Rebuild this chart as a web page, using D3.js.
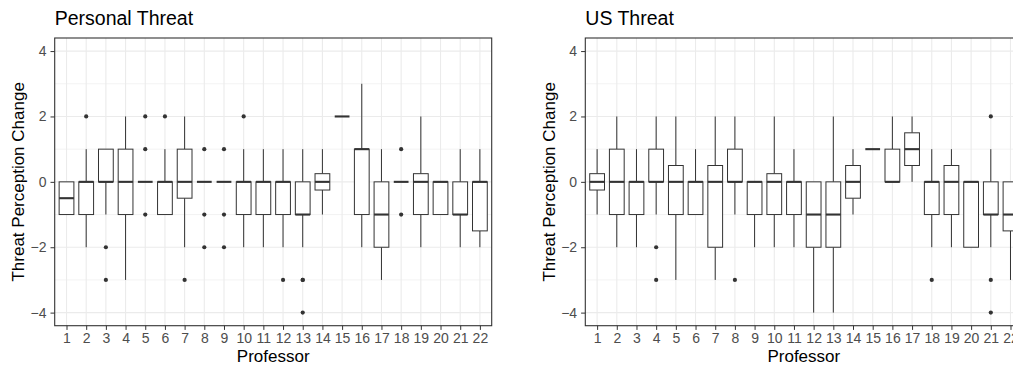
<!DOCTYPE html>
<html>
<head>
<meta charset="utf-8">
<script src="https://cdn.jsdelivr.net/npm/d3@7"></script>
<style>
  html, body { margin: 0; padding: 0; background: #fff; }
  svg { display: block; font-family: "Liberation Sans", Arial, sans-serif; }
</style>
</head>
<body>
<div id="chart"></div>
<script>
// categories (professor ids)
const professors = d3.range(1, 23).map(String);

// Personal Threat: box stats per professor
const personalLow  = [-1, -2, -1, -3, 0, -1, -2, 0, 0, -2, -2, -2, -2, -1, 2, -2, -3, 0, -2, -1, -2, -2];
const personalQ1   = [-1, -1, 0, -1, 0, -1, -0.5, 0, 0, -1, -1, -1, -1, -0.25, 2, -1, -2, 0, -1, -1, -1, -1.5];
const personalMed  = [-0.5, 0, 0, 0, 0, 0, 0, 0, 0, 0, 0, 0, -1, 0, 2, 1, -1, 0, 0, 0, -1, 0];
const personalQ3   = [0, 0, 1, 1, 0, 0, 1, 0, 0, 0, 0, 0, 0, 0.25, 2, 1, 0, 0, 0.25, 0, 0, 0];
const personalHigh = [0, 1, 1, 2, 0, 1, 2, 0, 0, 1, 1, 1, 1, 1, 2, 3, 1, 0, 2, 0, 1, 1];
const personalOut  = [[], [2], [-2, -3], [], [2, 1, -1], [2], [-3], [1, -1, -2], [1, -1, -2], [2], [], [-3],
                      [-3, -3, -4], [], [], [], [], [1, -1], [], [], [], []];

// US Threat: box stats per professor
const usLow  = [-1, -2, -2, -1, -3, -1, -3, -1, -2, -2, -2, -4, -4, -1, 1, 0, 0, -2, -2, -2, -2, -3];
const usQ1   = [-0.25, -1, -1, 0, -1, -1, -2, 0, -1, -1, -1, -2, -2, -0.5, 1, 0, 0.5, -1, -1, -2, -1, -1.5];
const usMed  = [0, 0, 0, 0, 0, 0, 0, 0, 0, 0, 0, -1, -1, 0, 1, 0, 1, 0, 0, 0, -1, -1];
const usQ3   = [0.25, 1, 0, 1, 0.5, 0, 0.5, 1, 0, 0.25, 0, 0, 0, 0.5, 1, 1, 1.5, 0, 0.5, 0, 0, 0];
const usHigh = [1, 2, 1, 2, 2, 1, 2, 2, 0, 2, 1, 0, 2, 1, 1, 2, 2, 1, 1, 0, 1, 0];
const usOut  = [[], [], [], [-2, -3], [], [], [], [-3], [], [], [], [], [], [], [], [], [], [-3], [], [],
                [2, -3, -4], []];

const yMajor = [-4, -2, 0, 2, 4];
const yMinor = [-3, -1, 1, 3];

const W = 1013, H = 366;
const ink = '#333333';
const gridCol = '#EBEBEB';
const tickText = '#4D4D4D';

const svg = d3.select('#chart').append('svg')
  .attr('width', W)
  .attr('height', H);

function boxRows(low, q1, med, q3, high, out) {
  return professors.map((p, i) => ({
    prof: p, low: low[i], q1: q1[i], med: med[i], q3: q3[i], high: high[i], out: out[i]
  }));
}

function drawPanel(left, title, rows) {
  const top = 38, bottom = 325.7, width = 437;
  const right = left + width;

  const x = d3.scalePoint()
    .domain(professors)
    .range([left, right])
    .padding(0.6);

  const y = d3.scaleLinear()
    .domain([-4.4, 4.4])
    .range([bottom, top]);

  const boxW = x.step() * 0.75;
  const g = svg.append('g');

  // grid
  g.selectAll('.minor').data(yMinor).enter().append('line')
    .attr('x1', left).attr('x2', right)
    .attr('y1', d => y(d)).attr('y2', d => y(d))
    .attr('stroke', gridCol).attr('stroke-width', 0.6);
  g.selectAll('.majorY').data(yMajor).enter().append('line')
    .attr('x1', left).attr('x2', right)
    .attr('y1', d => y(d)).attr('y2', d => y(d))
    .attr('stroke', gridCol).attr('stroke-width', 1.1);
  g.selectAll('.majorX').data(professors).enter().append('line')
    .attr('y1', top).attr('y2', bottom)
    .attr('x1', d => x(d)).attr('x2', d => x(d))
    .attr('stroke', gridCol).attr('stroke-width', 1.1);

  // boxes
  const box = g.selectAll('.box').data(rows).enter().append('g');

  box.append('line')
    .attr('x1', d => x(d.prof)).attr('x2', d => x(d.prof))
    .attr('y1', d => y(d.q3)).attr('y2', d => y(d.high))
    .attr('stroke', ink).attr('stroke-width', 1);
  box.append('line')
    .attr('x1', d => x(d.prof)).attr('x2', d => x(d.prof))
    .attr('y1', d => y(d.q1)).attr('y2', d => y(d.low))
    .attr('stroke', ink).attr('stroke-width', 1);
  box.append('rect')
    .attr('x', d => x(d.prof) - boxW / 2)
    .attr('width', boxW)
    .attr('y', d => y(d.q3))
    .attr('height', d => y(d.q1) - y(d.q3))
    .attr('fill', '#fff')
    .attr('stroke', ink).attr('stroke-width', 1);
  box.append('line')
    .attr('x1', d => x(d.prof) - boxW / 2).attr('x2', d => x(d.prof) + boxW / 2)
    .attr('y1', d => y(d.med)).attr('y2', d => y(d.med))
    .attr('stroke', ink).attr('stroke-width', 2.1);

  box.selectAll('circle')
    .data(d => d.out.map(v => ({ prof: d.prof, v })))
    .enter().append('circle')
    .attr('cx', d => x(d.prof))
    .attr('cy', d => y(d.v))
    .attr('r', 2.1)
    .attr('fill', ink);

  // panel border
  g.append('rect')
    .attr('x', left).attr('y', top)
    .attr('width', width).attr('height', bottom - top)
    .attr('fill', 'none')
    .attr('stroke', ink).attr('stroke-width', 1.1);

  // axes
  const xAxis = g.append('g')
    .attr('transform', `translate(0,${bottom})`)
    .call(d3.axisBottom(x).tickSizeInner(4.2).tickSizeOuter(0).tickPadding(3));
  const yAxis = g.append('g')
    .attr('transform', `translate(${left},0)`)
    .call(d3.axisLeft(y).tickValues(yMajor).tickFormat(d => d < 0 ? '\u2212' + Math.abs(d) : d)
      .tickSizeInner(4.2).tickSizeOuter(0).tickPadding(4));
  [xAxis, yAxis].forEach(a => {
    a.select('.domain').remove();
    a.selectAll('line').attr('stroke', ink).attr('stroke-width', 1);
    a.selectAll('text')
      .attr('fill', tickText)
      .style('font-size', '14px')
      .style('font-family', '"Liberation Sans", Arial, sans-serif');
  });

  // titles
  svg.append('text')
    .attr('x', left)
    .attr('y', 25)
    .style('font-size', '19.5px')
    .attr('fill', '#000')
    .text(title);

  svg.append('text')
    .attr('x', (left + right) / 2)
    .attr('y', 362)
    .attr('text-anchor', 'middle')
    .style('font-size', '17px')
    .attr('fill', '#000')
    .text('Professor');

  svg.append('text')
    .attr('transform', `translate(${left - 30.5},${(top + bottom) / 2}) rotate(-90)`)
    .attr('text-anchor', 'middle')
    .style('font-size', '17px')
    .attr('fill', '#000')
    .text('Threat Perception Change');
}

drawPanel(54.7, 'Personal Threat',
  boxRows(personalLow, personalQ1, personalMed, personalQ3, personalHigh, personalOut));
drawPanel(585.3, 'US Threat',
  boxRows(usLow, usQ1, usMed, usQ3, usHigh, usOut));
</script>
</body>
</html>
